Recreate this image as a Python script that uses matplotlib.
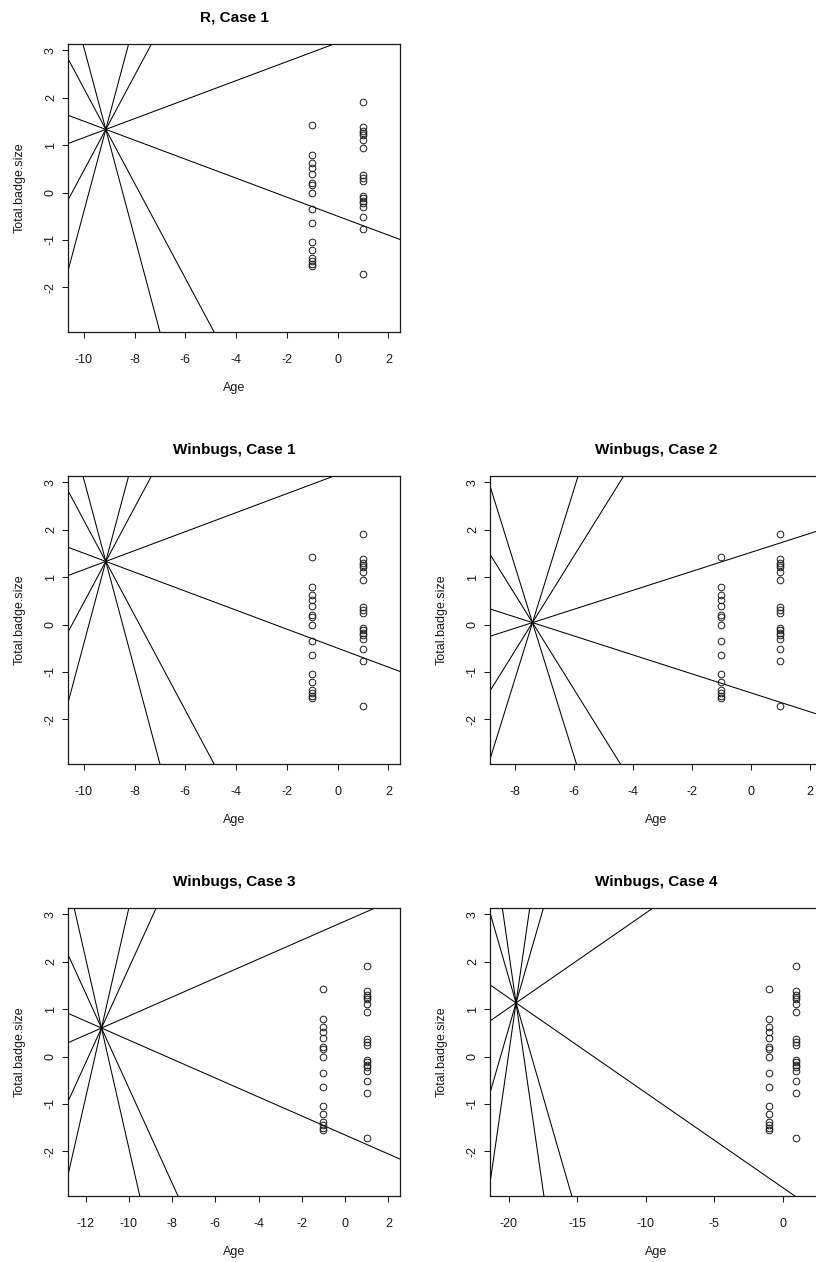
import matplotlib.pyplot as plt
import numpy as np

plt.rcParams['font.family'] = ['Liberation Sans', 'DejaVu Sans']
plt.rcParams['axes.unicode_minus'] = False

# badge sizes for the two age groups (Age = -1 and Age = 1)
badge_young = [1.42, 0.79, 0.63, 0.51, 0.39, 0.19, 0.15, 0.0, -0.35, -0.65,
               -1.04, -1.21, -1.37, -1.44, -1.51, -1.55]
badge_old = [1.90, 1.39, 1.29, 1.25, 1.21, 1.10, 0.94, 0.37, 0.30, 0.25,
             -0.07, -0.12, -0.18, -0.23, -0.30, -0.51, -0.77, -1.71]

titles = ['R, Case 1', 'Winbugs, Case 1', 'Winbugs, Case 2',
          'Winbugs, Case 3', 'Winbugs, Case 4']
# point where the fan of lines meets, one per case
cross_x = [-9.14, -9.14, -7.40, -11.27, -19.46]
cross_y = [1.33, 1.33, 0.04, 0.60, 1.13]
slopes = [-2, -1, -0.2, 0.2, 1, 2]

xlims = [(-10.63, 2.46), (-10.63, 2.46), (-8.84, 2.41), (-12.82, 2.54), (-21.36, 2.87)]
xticks = [np.arange(-10, 3, 2), np.arange(-10, 3, 2), np.arange(-8, 3, 2),
          np.arange(-12, 3, 2), np.arange(-20, 1, 5)]
ylim = (-2.94, 3.13)
yticks = np.arange(-2, 4)

W, H = 816, 1262
fig = plt.figure(figsize=(W / 100, H / 100), dpi=100)

# panel boxes in pixels: left, top
boxes = [(68, 44), (68, 476), (490, 476), (68, 908), (490, 908)]
bw, bh = 332, 288

ink = '#1a1a1a'
for k in range(5):
    left, top = boxes[k]
    ax = fig.add_axes([left / W, 1 - (top + bh) / H, bw / W, bh / H])

    for s in slopes:
        ax.axline((cross_x[k], cross_y[k]), slope=s, color='black', lw=0.75)

    ax.plot([-1] * len(badge_young), badge_young, 'o', mfc='none', mec=ink,
            ms=4.8, mew=0.7)
    ax.plot([1] * len(badge_old), badge_old, 'o', mfc='none', mec=ink,
            ms=4.8, mew=0.7)

    ax.set_xlim(xlims[k])
    ax.set_ylim(ylim)
    ax.set_xticks(xticks[k])
    ax.set_yticks(yticks)
    ax.set_yticklabels([str(v) for v in yticks], rotation=90, va='center')
    ax.tick_params(length=4.5, width=0.75, color=ink, labelsize=9,
                   labelcolor=ink)
    ax.tick_params(axis='x', pad=11)
    ax.tick_params(axis='y', pad=3.5)
    for sp in ax.spines.values():
        sp.set_color(ink)
        sp.set_linewidth(0.9)

    ax.set_title(titles[k], fontsize=11, fontweight='bold', pad=16)
    ax.set_xlabel('Age', fontsize=9, color=ink, labelpad=11.5)
    ax.set_ylabel('Total.badge.size', fontsize=9, color=ink, labelpad=13.5)

fig.savefig('out.png', dpi=100)
